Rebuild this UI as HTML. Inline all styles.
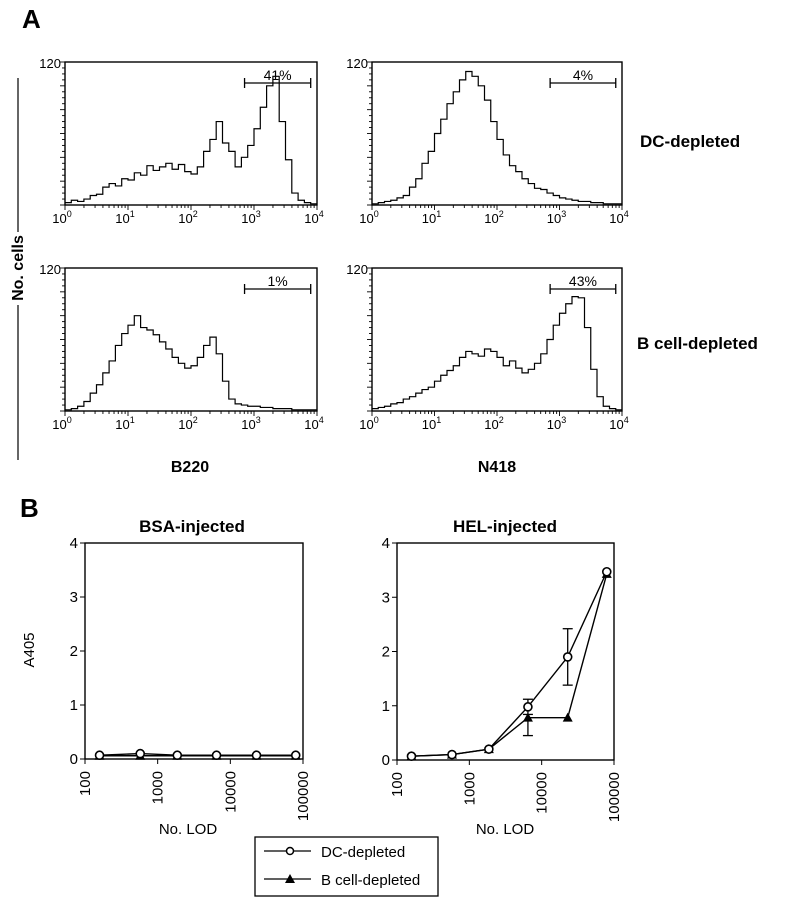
<!DOCTYPE html>
<html><head><meta charset="utf-8"><style>
html,body{margin:0;padding:0;background:#fff;}
svg{display:block;font-family:"Liberation Sans",Arial,sans-serif;}
</style></head><body>
<svg id="fig" width="793" height="899" viewBox="0 0 793 899">
<text x="22" y="28" font-size="26" font-weight="bold">A</text>
<text x="20" y="517" font-size="26" font-weight="bold">B</text>
<g>
<line x1="18" y1="78" x2="18" y2="232" stroke="#000" stroke-width="1.2"/>
<line x1="18" y1="305" x2="18" y2="460" stroke="#000" stroke-width="1.2"/>
<text transform="translate(23,268) rotate(-90)" text-anchor="middle" font-size="16" font-weight="bold">No. cells</text>
</g>
<text x="640" y="147" font-size="17" font-weight="bold">DC-depleted</text>
<text x="637" y="349" font-size="17" font-weight="bold">B cell-depleted</text>
<text x="190" y="472" text-anchor="middle" font-size="16" font-weight="bold">B220</text>
<text x="497" y="472" text-anchor="middle" font-size="16" font-weight="bold">N418</text>
<text x="192" y="532" text-anchor="middle" font-size="17" font-weight="bold">BSA-injected</text>
<text x="505" y="532" text-anchor="middle" font-size="17" font-weight="bold">HEL-injected</text>
<text transform="translate(34,650) rotate(-90)" text-anchor="middle" font-size="15">A405</text>
<text x="188" y="834" text-anchor="middle" font-size="15">No. LOD</text>
<text x="505" y="834" text-anchor="middle" font-size="15">No. LOD</text>
<g>
<rect x="255" y="837" width="183" height="59" fill="#fff" stroke="#000" stroke-width="1.3"/>
<g>
<line x1="264" y1="851" x2="311" y2="851" stroke="#000" stroke-width="1.3"/>
<circle cx="290" cy="851" r="3.5" fill="#fff" stroke="#000" stroke-width="1.5"/>
<text x="321" y="857" font-size="15">DC-depleted</text></g>
<g>
<line x1="264" y1="879" x2="311" y2="879" stroke="#000" stroke-width="1.3"/>
<polygon points="290,874 295,883 285,883" fill="#000"/>
<text x="321" y="885" font-size="15">B cell-depleted</text></g>
</g>
</svg>
<script>
// Panel A histogram data: counts at log10 fluorescence 0.0..4.0 step 0.1
const histLogs = Array.from({length:41},(_, i)=>i/10);
const histB220DC = [2,4,3,5,8,9,15,18,16,22,21,27,25,33,29,32,35,30,34,28,26,32,45,55,70,52,45,32,40,50,64,82,100,108,70,38,10,4,2,1,1];
const histN418DC = [1,2,3,4,6,8,15,22,35,45,60,72,85,95,105,112,108,100,88,70,55,42,33,28,22,18,14,13,10,8,6,5,4,3,3,2,2,1,1,1,1];
const histB220B = [1,2,4,8,15,22,32,42,55,65,72,80,70,68,64,58,52,45,40,36,38,45,55,62,48,25,10,6,5,4,4,3,3,2,2,2,1,1,1,1,1];
const histN418B = [2,3,4,6,7,10,12,15,18,20,25,30,34,38,45,50,48,46,52,50,45,38,42,36,32,35,40,48,60,72,82,90,96,95,70,35,12,4,2,1,1];
const gatePcts = ["41%","4%","1%","43%"];
const gateRange = [2.85, 3.9];
// Panel B data
const lodLog = [2.2, 2.76, 3.27, 3.81, 4.36, 4.9];
const bsaDC = [0.07, 0.1, 0.07, 0.07, 0.07, 0.07];
const bsaB = [0.06, 0.06, 0.06, 0.06, 0.06, 0.06];
const helDC = [0.07, 0.1, 0.2, 0.98, 1.9, 3.47];
const helDCerr = [0, 0, 0, 0.14, 0.52, 0];
const helB = [0.07, 0.1, 0.2, 0.78, 0.78, 3.43];
const helBerr = [0, 0, 0, 0.33, 0, 0];
const yTicks = [0,1,2,3,4];
const xTickLabels = ["100","1000","10000","100000"];

const NS="http://www.w3.org/2000/svg";
const svg=document.getElementById('fig');
function mk(tag,attrs,parent){const e=document.createElementNS(NS,tag);for(const k in attrs)e.setAttribute(k,attrs[k]);(parent||svg).appendChild(e);return e;}

function histPanel(x0,y0,x1,y1,data,pct,name){
  const g=mk('g',{});
  
  
  const sx=v=>x0+(v/4)*(x1-x0), sy=v=>y1-(v/120)*(y1-y0);
  mk('rect',{x:x0,y:y0,width:x1-x0,height:y1-y0,fill:'none',stroke:'#000','stroke-width':1.4},g);
  for(let v=0;v<=120;v+=5){const l=(v%20===0)?5:3;mk('line',{x1:x0-l,y1:sy(v),x2:x0,y2:sy(v),stroke:'#000','stroke-width':0.9},g);}
  const t=mk('text',{x:x0-4,y:y0+6,'text-anchor':'end','font-size':13},g);t.textContent='120';
  for(let d=0;d<4;d++)for(let k=1;k<10;k++){const xx=sx(d+Math.log10(k));mk('line',{x1:xx,y1:y1,x2:xx,y2:y1+(k===1?5:3),stroke:'#000','stroke-width':0.9},g);}
  mk('line',{x1:x1,y1:y1,x2:x1,y2:y1+5,stroke:'#000','stroke-width':0.9},g);
  for(let d=0;d<=4;d++){const tx=mk('text',{x:sx(d)-3,y:y1+18,'text-anchor':'middle','font-size':13},g);tx.textContent='10';const s=mk('tspan',{dy:-6,'font-size':9},tx);s.textContent=String(d);}
  let p='';data.forEach((v,i)=>{const xa=sx(histLogs[i]),xb=sx(Math.min(4,histLogs[i]+0.1));p+=(i?'L':'M')+xa+','+sy(v)+'L'+xb+','+sy(v);});
  const path=mk('path',{d:p,fill:'none',stroke:'#000','stroke-width':1.2},g);
  
  
  const gy=y0+21,ga=sx(gateRange[0]),gb=sx(gateRange[1]);
  const gate=mk('g',{},g);
  
  
  mk('line',{x1:ga,y1:gy,x2:gb,y2:gy,stroke:'#000','stroke-width':1.3},gate);
  mk('line',{x1:ga,y1:gy-5,x2:ga,y2:gy+5,stroke:'#000','stroke-width':1.3},gate);
  mk('line',{x1:gb,y1:gy-5,x2:gb,y2:gy+5,stroke:'#000','stroke-width':1.3},gate);
  const pt=mk('text',{x:(ga+gb)/2,y:gy-3,'text-anchor':'middle','font-size':14},gate);pt.textContent=pct;
}
histPanel(65,62,317,205,histB220DC,gatePcts[0],'hist-b220-dc-depleted');
histPanel(372,62,622,205,histN418DC,gatePcts[1],'hist-n418-dc-depleted');
histPanel(65,268,317,411,histB220B,gatePcts[2],'hist-b220-bcell-depleted');
histPanel(372,268,622,411,histN418B,gatePcts[3],'hist-n418-bcell-depleted');

function linePanel(x0,y0,x1,y1,dc,dcErr,bc,bcErr,name){
  const g=mk('g',{});
  
  
  const sx=v=>x0+(v-2)/3*(x1-x0), sy=v=>y1-(v/4)*(y1-y0);
  mk('rect',{x:x0,y:y0,width:x1-x0,height:y1-y0,fill:'none',stroke:'#000','stroke-width':1.4},g);
  yTicks.forEach(v=>{mk('line',{x1:x0-5,y1:sy(v),x2:x0,y2:sy(v),stroke:'#000','stroke-width':1},g);const t=mk('text',{x:x0-7,y:sy(v)+5,'text-anchor':'end','font-size':15},g);t.textContent=v;});
  xTickLabels.forEach((lab,i)=>{const xx=sx(2+i);mk('line',{x1:xx,y1:y1,x2:xx,y2:y1+5,stroke:'#000','stroke-width':1},g);const t=mk('text',{transform:`translate(${xx+5},${y1+12}) rotate(-90)`,'text-anchor':'end','font-size':15},g);t.textContent=lab;});
  const pts=(arr)=>arr.map((v,i)=>sx(lodLog[i])+','+sy(v)).join(' ');
  const lb=mk('polyline',{points:pts(bc),fill:'none',stroke:'#000','stroke-width':1.4},g);
  
  
  const ld=mk('polyline',{points:pts(dc),fill:'none',stroke:'#000','stroke-width':1.4},g);
  
  
  const err=(v,e,x,dir)=>{if(!e)return;const ys=[];if(dir>=0)ys.push(v+e);if(dir<=0)ys.push(v-e);ys.forEach(yv=>{mk('line',{x1:x,y1:sy(v),x2:x,y2:sy(yv),stroke:'#000','stroke-width':1.3},g);mk('line',{x1:x-5,y1:sy(yv),x2:x+5,y2:sy(yv),stroke:'#000','stroke-width':1.3},g);});};
  dc.forEach((v,i)=>err(v,dcErr[i],sx(lodLog[i]),0));
  bc.forEach((v,i)=>err(v,bcErr[i],sx(lodLog[i]),-1));
  bc.forEach((v,i)=>{const x=sx(lodLog[i]),y=sy(v);const m=mk('polygon',{points:`${x},${y-5} ${x+5},${y+4} ${x-5},${y+4}`,fill:'#000'},g);
    
    });
  dc.forEach((v,i)=>{const c=mk('circle',{cx:sx(lodLog[i]),cy:sy(v),r:4,fill:'#fff',stroke:'#000','stroke-width':1.6},g);
    
    });
}
linePanel(85,543,303,759,bsaDC,[0,0,0,0,0,0],bsaB,[0,0,0,0,0,0],'bsa-injected-chart');
linePanel(397,543,614,760,helDC,helDCerr,helB,helBerr,'hel-injected-chart');
</script>
</body></html>
